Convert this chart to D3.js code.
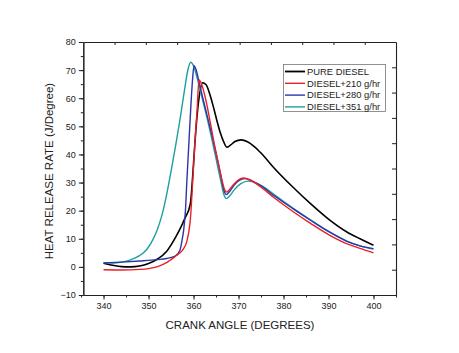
<!DOCTYPE html>
<html><head><meta charset="utf-8">
<script src="https://cdn.jsdelivr.net/npm/d3@7"></script>
<style>html,body{margin:0;padding:0;background:#fff;}svg{display:block;font-family:"Liberation Sans",Arial,sans-serif;}</style>
</head><body><svg id="c" width="459" height="353"></svg>
<script>
const seriesNames = ["PURE DIESEL", "DIESEL+210 g/hr", "DIESEL+280 g/hr", "DIESEL+351 g/hr"];
const seriesColors = ["#000000", "#e8202a", "#2e35a8", "#1f9e9e"];

const pureAngle = [340,342,344,346,348,350,352,354,356,357,358,359.3,359.8,360.3,360.8,361.3,362,362.8,363.6,364.4,365.2,365.9,366.7,367.4,368.2,369.2,370.6,372,373.5,375,378,382,386,390,394,397,400];
const pureHRR   = [1.3,0.6,0.1,0,0.3,1.2,2.8,5.5,10.5,13.5,17,22.5,32,44,54,61,65.5,64.8,61.5,57,52,48,44.5,42.6,43.3,44.6,45.2,44.5,42.8,40.5,35,28.5,22.5,17,12.5,10,7.7];

const d210Angle = [340,344,348,350,352,354,355,356,357,357.8,358.5,358.9,359.3,359.8,360.3,360.8,361.2,361.8,362.5,363.3,364,364.7,365.5,366.3,366.9,367.4,368,369,370,371.1,372.5,374.8,378,382,386,390,394,397,400];
const d210HRR   = [-1.0,-1.1,-0.9,-0.6,0.1,1.5,2.6,3.8,5,6.5,9,12,17,30,44,56,66.5,65,61,55,49,43,37,31,27.5,26.6,27.5,29.5,31,31.6,31,28.6,24.5,19.8,15.5,11.5,8.3,6.6,5];

const d280Angle = [340,344,348,352,354,355.9,357,357.5,357.8,358.2,358.5,359,359.4,359.8,360.1,360.6,361.2,362,363,364,365,366,366.8,367.3,368,369,370,371.5,373,375,378,382,386,390,394,397,400];
const d280HRR   = [1.4,1.7,2.1,2.6,3.0,3.8,6,10,13,20,30,45,57,67,71.6,70,66,60.5,54,47.5,40.5,33,27,25.7,26.8,29,30.6,31.4,30.6,28.8,25.2,20.8,16.6,12.6,9.2,7.5,6.5];

const d351Angle = [340,342,344,346,348,349.6,351,352,353,354,355,356,357,358,358.8,359.4,360,361,362,363,364,365,366,366.8,367.3,368,369,370.5,372.2,374,376,378,382,386,390,394,397,400];
const d351HRR   = [1.5,1.4,1.7,2.5,4,6.2,9.8,13.5,18.5,25.5,34,43,52.5,63,70.5,72.8,71.5,66,59.5,53,46,38.5,31,25.5,24.3,25.2,27.3,29.6,30.5,29.8,28,25.6,21,16.7,12.6,9.2,7.5,6.3];

const xTicks = [340,350,360,370,380,390,400];
const yTicks = [-10,0,10,20,30,40,50,60,70,80];

const svg = d3.select("#c");
const L = 83.3, R = 396, T = 42, B = 295;
const x = d3.scaleLinear().domain([335.5, 405]).range([L, R]);
const y = d3.scaleLinear().domain([-10, 80]).range([B, T]);
const xTop = d3.scaleLinear().domain([0, 10]).range([L, R]);
const yRight = d3.scaleLinear().domain([0, 10]).range([B, T]);

const axisColor = "#222";
function styleAxis(g){
  g.selectAll("path").attr("stroke", axisColor).attr("stroke-width", 1.1);
  g.selectAll("line").attr("stroke", axisColor).attr("stroke-width", 1);
  g.selectAll("text").attr("fill", "#222").style("font-size", "9px").style("font-family", "'Liberation Sans', Arial, sans-serif");
}

const gBotMinor = svg.append("g").attr("transform", `translate(0,${B})`)
  .call(d3.axisBottom(x).tickValues(d3.range(335, 406, 5)).tickSize(2.5).tickFormat("").tickSizeOuter(0));
styleAxis(gBotMinor);
const gBot = svg.append("g").attr("transform", `translate(0,${B})`)
  .call(d3.axisBottom(x).tickValues(xTicks).tickSize(4.5).tickPadding(3).tickSizeOuter(0));
styleAxis(gBot);

const gLeftMinor = svg.append("g").attr("transform", `translate(${L},0)`)
  .call(d3.axisLeft(y).tickValues(d3.range(-10, 81, 5)).tickSize(2.5).tickFormat("").tickSizeOuter(0));
styleAxis(gLeftMinor);
const gLeft = svg.append("g").attr("transform", `translate(${L},0)`)
  .call(d3.axisLeft(y).tickValues(yTicks).tickSize(4.5).tickPadding(3).tickSizeOuter(0));
styleAxis(gLeft);

const gTop = svg.append("g").attr("transform", `translate(0,${T})`)
  .call(d3.axisTop(xTop).tickValues(d3.range(1, 10, 1)).tickSize(-3).tickFormat("").tickSizeOuter(0));
styleAxis(gTop);
const gRight = svg.append("g").attr("transform", `translate(${R},0)`)
  .call(d3.axisRight(yRight).tickValues(d3.range(1, 10, 1)).tickSize(-4).tickFormat("").tickSizeOuter(0));
styleAxis(gRight);

svg.append("text").attr("x", 240).attr("y", 329).attr("text-anchor", "middle")
  .style("font-size", "11.5px").attr("fill", "#222").text("CRANK ANGLE (DEGREES)");
svg.append("text").attr("transform", "translate(53,171) rotate(-90)").attr("text-anchor", "middle")
  .style("font-size", "11.5px").attr("fill", "#222").text("HEAT RELEASE RATE (J/Degree)");

const series = [
  [pureAngle, pureHRR],
  [d210Angle, d210HRR],
  [d280Angle, d280HRR],
  [d351Angle, d351HRR]
];
const line = d3.line().x(d => x(d[0])).y(d => y(d[1])).curve(d3.curveMonotoneX);
const gLines = svg.append("g");
[0, 3, 2, 1].forEach(i => {
  const pts = series[i][0].map((a, k) => [a, series[i][1][k]]);
  gLines.append("path").datum(pts).attr("d", line).attr("fill", "none")
    .attr("stroke", seriesColors[i]).attr("stroke-width", i === 0 ? 1.6 : 1.4)
    .attr("stroke-linejoin", "round");
});

const lg = svg.append("g");
lg.append("rect").attr("x", 283.5).attr("y", 64.5).attr("width", 102).attr("height", 47)
  .attr("fill", "#fff").attr("stroke", "#777").attr("stroke-width", 0.8);
seriesNames.forEach((n, i) => {
  const yy = 71.5 + i * 11.8;
  lg.append("line").attr("x1", 285).attr("x2", 305).attr("y1", yy).attr("y2", yy)
    .attr("stroke", seriesColors[i]).attr("stroke-width", i === 0 ? 1.8 : 1.4);
  lg.append("text").attr("x", 307).attr("y", yy + 3.3).style("font-size", "9.4px").attr("fill", "#222").text(n);
});
</script></body></html>
